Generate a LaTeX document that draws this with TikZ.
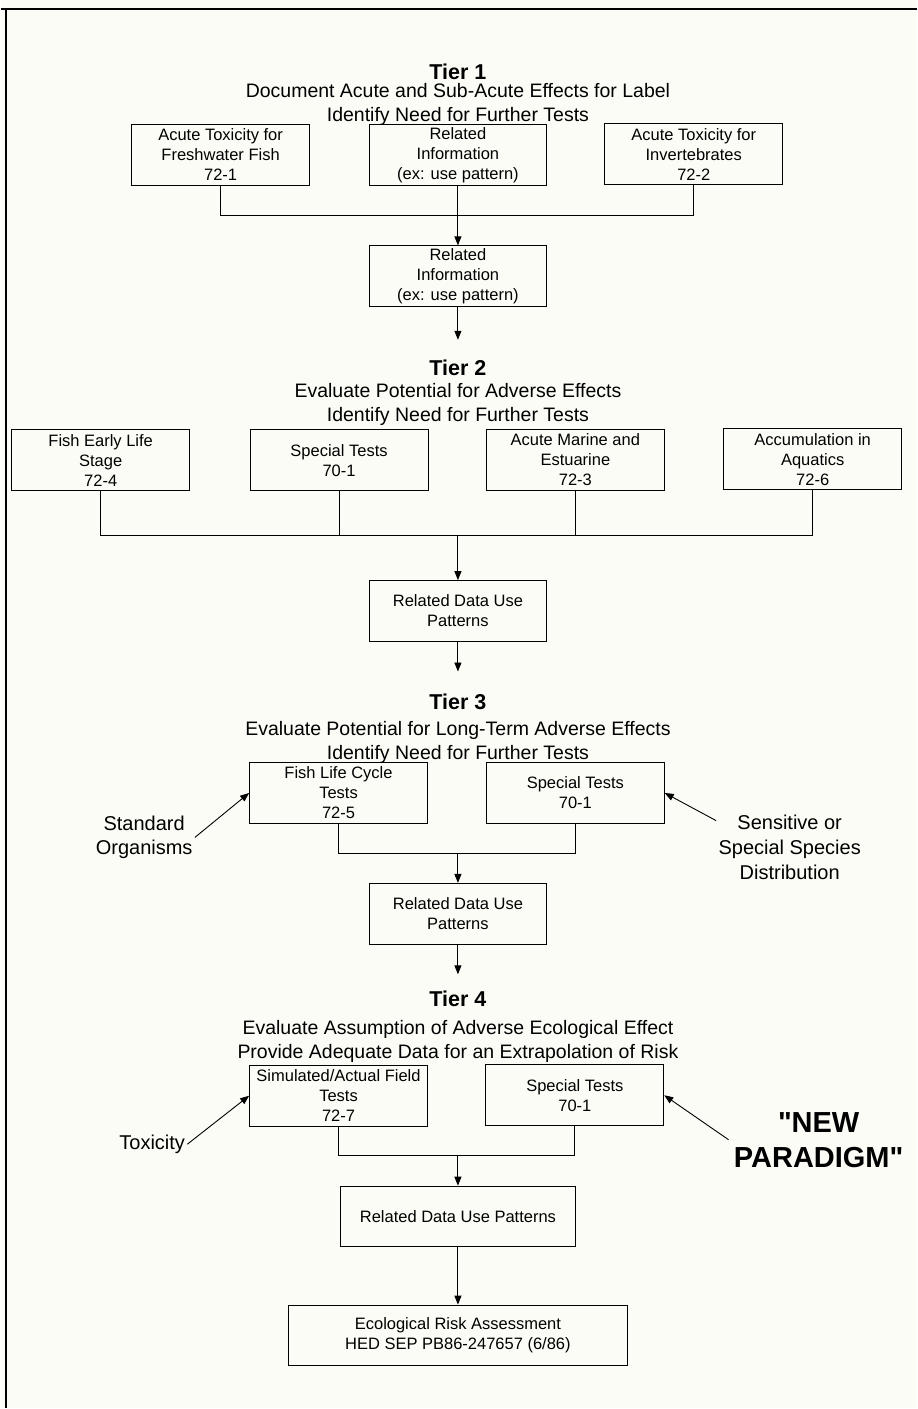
\documentclass[tikz,border=0pt]{standalone}
\usepackage{fontspec}
\setmainfont{Liberation Sans}
\newfontfamily\straightquotes{Liberation Sans}[Ligatures=TeXOff]
\usetikzlibrary{arrows.meta}
\definecolor{paper}{RGB}{252,252,247}

\begin{document}
\begin{tikzpicture}[x=1pt, y=-1pt, line width=0.9pt,
	tbox/.style={draw, minimum width=178pt, minimum height=61pt, inner sep=0pt, align=center, font=\fontsize{16.5}{20}\selectfont},
	tier/.style={inner sep=0pt, font=\fontsize{21.5}{24}\selectfont\bfseries},
	aim/.style={inner sep=0pt, align=center, font=\fontsize{19.5}{24}\selectfont},
	side/.style={inner sep=2pt, align=center, font=\fontsize{20}{24}\selectfont},
	arr/.style={-{Triangle[length=9pt, width=7pt]}}]
	\fill[paper] (0,0) rectangle (916,1409);
	\draw[line width=2.5pt] (0,9) -- (916,9);
	\draw[line width=2pt] (5,9) -- (5,1409);
	
	\node[tier] (t1) at (457,71.5) {Tier 1};
	\node[aim] (aim1) at (457,105) {Document Acute and Sub-Acute Effects for Label\\Identify Need for Further Tests};
	
	\node[tbox] (fw) at (219.5,155) {Acute Toxicity for\\Freshwater Fish\\72-1};
	\node[tbox] (ri1) at (457,155) {Related\\Information\\(ex: use pattern)};
	\node[tbox] (inv) at (693,154.5) {Acute Toxicity for\\Invertebrates\\72-2};
	\node[tbox] (ri2) at (457,276.5) {Related\\Information\\(ex: use pattern)};
	
	\coordinate (j1) at (457,216);
	\coordinate (a1) at (457,340);
	\draw (fw.south) |- (j1) -| (inv.south);
	\draw[arr] (ri1.south) -- (ri2.north);
	\draw[arr] (ri2.south) -- (a1);
	
	\node[tier] (t2) at (457,368) {Tier 2};
	\node[aim] (aim2) at (457,404.5) {Evaluate Potential for Adverse Effects\\Identify Need for Further Tests};
	
	\node[tbox] (fels) at (99.5,460.5) {Fish Early Life\\Stage\\72-4};
	\node[tbox] (sp2) at (338,460.5) {Special Tests\\70-1};
	\node[tbox] (ame) at (574.5,460) {Acute Marine and\\Estuarine\\72-3};
	\node[tbox] (acc) at (812,459.5) {Accumulation in\\Aquatics\\72-6};
	\node[tbox] (rd2) at (457,611.5) {Related Data Use\\Patterns};
	
	\coordinate (j2) at (457,536);
	\coordinate (a2) at (457,672);
	\draw (fels.south) |- (j2) -| (acc.south);
	\draw (sp2.south) -- (sp2.south |- j2);
	\draw (ame.south) -- (ame.south |- j2);
	\draw[arr] (j2) -- (rd2.north);
	\draw[arr] (rd2.south) -- (a2);
	
	\node[tier] (t3) at (457,702) {Tier 3};
	\node[aim] (aim3) at (457,742.5) {Evaluate Potential for Long-Term Adverse Effects\\Identify Need for Further Tests};
	
	\node[tbox] (flc) at (337.5,793.5) {Fish Life Cycle\\Tests\\72-5};
	\node[tbox] (sp3) at (574.5,793.5) {Special Tests\\70-1};
	\node[tbox] (rd3) at (457,914.5) {Related Data Use\\Patterns};
	
	\node[side] (std) at (143,838) {Standard\\Organisms};
	\node[side, font=\fontsize{20}{25}\selectfont] (sens) at (789,848) {Sensitive or\\Special Species\\Distribution};
	
	\coordinate (j3) at (457,854);
	\coordinate (a3) at (457,975);
	\draw (flc.south) |- (j3) -| (sp3.south);
	\draw[arr] (j3) -- (rd3.north);
	\draw[arr] (rd3.south) -- (a3);
	\draw[arr] (std.east) -- (flc.west);
	\draw[arr] (sens.160) -- (sp3.east);
	
	\node[tier] (t4) at (457,1000) {Tier 4};
	\node[aim] (aim4) at (457,1042.5) {Evaluate Assumption of Adverse Ecological Effect\\Provide Adequate Data for an Extrapolation of Risk};
	
	\node[tbox] (sim) at (337.5,1096.5) {Simulated/Actual Field\\Tests\\72-7};
	\node[tbox] (sp4) at (574,1096) {Special Tests\\70-1};
	\node[tbox, minimum width=236pt, minimum height=60pt] (rd4) at (457,1217) {Related Data Use Patterns};
	\node[tbox, minimum width=340pt, minimum height=60pt] (era) at (457,1336) {Ecological Risk Assessment\\HED SEP PB86-247657 (6/86)};
	
	\node[side] (tox) at (151,1145) {Toxicity};
	\node[side, inner sep=5pt, font=\straightquotes\fontsize{29}{35}\selectfont\bfseries] (np) at (818,1140.5) {"NEW\\PARADIGM"};
	
	\coordinate (j4) at (457,1156);
	\draw (sim.south) |- (j4) -| (sp4.south);
	\draw[arr] (j4) -- (rd4.north);
	\draw[arr] (rd4.south) -- (era.north);
	\draw[arr] (tox.east) -- (sim.west);
	\draw[arr] (np.west) -- (sp4.east);
\end{tikzpicture}
\end{document}
